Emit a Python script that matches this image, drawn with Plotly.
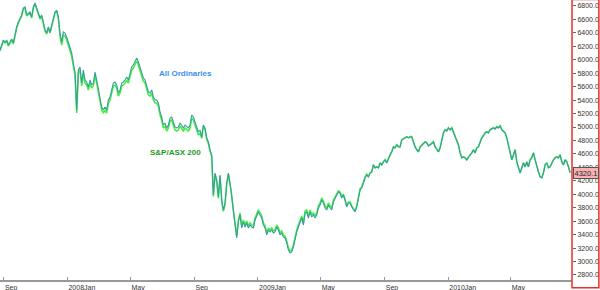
import pandas as pd
import plotly.graph_objects as go

# Sampling grid (about every 3.2 calendar days) starting late Aug 2007
start_date = "2007-08-25"
step = "4608min"

all_ords = [
    6145, 6220, 6294, 6264, 6294, 6220, 6264, 6309, 6250, 6398,
    6488, 6562, 6621, 6666, 6770, 6785, 6666, 6696, 6711, 6636,
    6785, 6844, 6770, 6666, 6621, 6666, 6547, 6443, 6398, 6488,
    6413, 6517, 6592, 6711, 6740, 6636, 6398, 6264, 6413, 6398,
    6339, 6250, 6190, 6101, 5952, 5818, 5253, 5848, 5893, 5655,
    5848, 5699, 5670, 5595, 5699, 5625, 5655, 5818, 5699, 5551,
    5447, 5298, 5253, 5298, 5253, 5402, 5447, 5551, 5655, 5670,
    5625, 5506, 5551, 5655, 5670, 5699, 5744, 5699, 5803, 5893,
    5922, 5967, 6027, 5967, 5893, 5818, 5729, 5699, 5595, 5521,
    5506, 5551, 5447, 5402, 5402, 5357, 5224, 5149, 5030, 5060,
    4986, 5030, 5134, 5149, 5075, 5001, 4986, 5001, 5060, 5030,
    4986, 5030, 5001, 4986, 5030, 5179, 5149, 5075, 5001, 4926,
    4956, 4852, 5030, 4986, 4837, 4777, 4659, 4584, 3989, 4316,
    4212, 3960, 4287, 3915, 3766, 3870, 4168, 4316, 4168, 3960,
    3722, 3513, 3350, 3588, 3692, 3499, 3588, 3513, 3573, 3499,
    3543, 3513, 3499, 3618, 3692, 3737, 3692, 3647, 3543, 3499,
    3395, 3469, 3439, 3469, 3424, 3439, 3513, 3469, 3395, 3424,
    3365, 3350, 3276, 3172, 3127, 3142, 3216, 3350, 3439, 3513,
    3588, 3647, 3543, 3722, 3737, 3647, 3737, 3662, 3692, 3647,
    3692, 3796, 3841, 3915, 3870, 3796, 3766, 3841, 3796, 3766,
    3885, 3945, 3989, 4034, 4019, 3945, 3989, 3915, 3811, 3870,
    3870, 3811, 3766, 3737, 3811, 3960, 4064, 4093, 4183, 4242,
    4287, 4257, 4316, 4331, 4435, 4391, 4406, 4391, 4465, 4435,
    4480, 4510, 4465, 4540, 4584, 4629, 4703, 4688, 4733, 4703,
    4703, 4807, 4822, 4837, 4852, 4837, 4852, 4852, 4763, 4703,
    4659, 4629, 4703, 4733, 4763, 4777, 4763, 4718, 4733, 4763,
    4777, 4703, 4659, 4629, 4688, 4807, 4911, 4956, 4941, 4986,
    4956, 4986, 4926, 4882, 4807, 4733, 4614, 4540, 4554, 4540,
    4510, 4554, 4584, 4614, 4659, 4614, 4688, 4703, 4763, 4837,
    4867, 4911, 4926, 4911, 4956, 4971, 4986, 4971, 5001, 4986,
    5015, 4956, 4926, 4911, 4837, 4733, 4659, 4510, 4584, 4659,
    4480, 4391, 4316, 4391, 4465, 4406, 4480, 4406, 4510, 4540,
    4614, 4510, 4406, 4331, 4257, 4242, 4316, 4435, 4465, 4391,
    4406, 4465, 4510, 4540, 4554, 4540, 4584, 4480, 4435, 4510,
    4480, 4406, 4320,
]

asx200 = [
    6130, 6205, 6279, 6249, 6279, 6205, 6249, 6294, 6235, 6383,
    6473, 6547, 6606, 6651, 6755, 6770, 6651, 6681, 6696, 6621,
    6770, 6829, 6755, 6651, 6606, 6651, 6532, 6428, 6383, 6473,
    6398, 6502, 6577, 6696, 6725, 6621, 6353, 6219, 6368, 6353,
    6294, 6205, 6145, 6056, 5907, 5773, 5208, 5803, 5848, 5610,
    5803, 5654, 5625, 5550, 5654, 5580, 5610, 5773, 5654, 5506,
    5402, 5253, 5208, 5253, 5208, 5357, 5402, 5506, 5610, 5625,
    5580, 5461, 5506, 5610, 5625, 5654, 5699, 5654, 5758, 5848,
    5877, 5922, 5982, 5922, 5848, 5773, 5684, 5654, 5550, 5476,
    5461, 5506, 5402, 5357, 5357, 5312, 5179, 5104, 4985, 5015,
    4941, 4985, 5089, 5104, 5030, 4956, 4941, 4956, 5015, 4985,
    4941, 4985, 4956, 4941, 4985, 5134, 5104, 5030, 4956, 4881,
    4911, 4832, 5010, 4966, 4817, 4757, 4639, 4564, 3969, 4296,
    4192, 3940, 4267, 3895, 3746, 3850, 4148, 4296, 4148, 3990,
    3752, 3543, 3380, 3618, 3722, 3529, 3618, 3543, 3603, 3529,
    3573, 3543, 3529, 3648, 3722, 3767, 3722, 3677, 3573, 3529,
    3425, 3499, 3469, 3499, 3454, 3469, 3543, 3499, 3425, 3454,
    3395, 3380, 3306, 3202, 3157, 3172, 3246, 3380, 3469, 3543,
    3618, 3677, 3573, 3752, 3767, 3677, 3767, 3692, 3722, 3677,
    3722, 3826, 3871, 3945, 3900, 3826, 3796, 3871, 3826, 3796,
    3915, 3960, 4004, 4049, 4034, 3960, 4004, 3930, 3826, 3885,
    3885, 3826, 3781, 3752, 3826, 3975, 4079, 4108, 4198, 4257,
    4302, 4262, 4321, 4336, 4440, 4396, 4411, 4396, 4470, 4440,
    4485, 4515, 4470, 4545, 4589, 4634, 4708, 4693, 4738, 4708,
    4708, 4812, 4827, 4842, 4857, 4842, 4857, 4857, 4768, 4708,
    4664, 4634, 4708, 4738, 4768, 4782, 4768, 4723, 4738, 4768,
    4782, 4708, 4664, 4634, 4693, 4812, 4916, 4961, 4946, 4991,
    4961, 4991, 4931, 4887, 4812, 4738, 4619, 4545, 4559, 4545,
    4515, 4559, 4589, 4619, 4664, 4619, 4693, 4708, 4768, 4842,
    4872, 4916, 4931, 4916, 4961, 4976, 4991, 4976, 5006, 4991,
    5020, 4961, 4931, 4916, 4842, 4738, 4664, 4515, 4589, 4664,
    4485, 4396, 4321, 4396, 4470, 4411, 4485, 4411, 4515, 4545,
    4619, 4515, 4411, 4336, 4262, 4247, 4321, 4440, 4470, 4396,
    4411, 4470, 4515, 4545, 4559, 4545, 4589, 4485, 4440, 4515,
    4485, 4411, 4325,
]

tick_dates = ["2007-09-01", "2008-01-01", "2008-05-01", "2008-09-01", "2009-01-01",
              "2009-05-01", "2009-09-01", "2010-01-01", "2010-05-01"]
tick_text = ["Sep", "2008Jan", "May", "Sep", "2009Jan", "May", "Sep", "2010Jan", "May"]

last_value = 4320.1
series_names = ["All Ordinaries", "S&P/ASX 200"]

dates = pd.date_range(start_date, periods=len(all_ords), freq=step)

fig = go.Figure()
fig.add_trace(go.Scatter(x=dates, y=asx200, mode="lines", name=series_names[1],
                         line=dict(color="#45ee45", width=1.6), hoverinfo="skip"))
fig.add_trace(go.Scatter(x=dates, y=all_ords, mode="lines", name=series_names[0],
                         line=dict(color="#3a9c9e", width=1.1), hoverinfo="skip"))

font_family = "Liberation Sans, Arial, sans-serif"

fig.update_layout(
    width=600, height=290,
    margin=dict(l=0, r=28, t=0, b=10, pad=0),
    paper_bgcolor="white", plot_bgcolor="white",
    showlegend=False,
    font=dict(family=font_family, size=7, color="#333333"),
    xaxis=dict(
        type="date",
        range=["2007-08-25", "2010-08-27"],
        tickvals=tick_dates, ticktext=tick_text,
        ticks="inside", ticklen=3, tickcolor="#999999", tickwidth=1,
        ticklabelposition="outside right",
        showline=True, linecolor="#999999", linewidth=1.5,
        showgrid=False, zeroline=False, automargin=False,
        tickfont=dict(size=7, color="#333333", family=font_family),
    ),
    yaxis=dict(
        side="right",
        range=[2725, 6889],
        tick0=2800, dtick=200, tickformat=".1f",
        ticks="outside", ticklen=3, tickcolor="#666666",
        showline=False, showgrid=False, zeroline=False, automargin=False,
        tickfont=dict(size=7, color="#333333", family=font_family),
    ),
)

# red frame around the price scale
fig.add_shape(type="rect", xref="paper", yref="paper",
              x0=1.0, x1=1.047, y0=-0.028, y1=1.002,
              line=dict(color="#e8302e", width=1.5), fillcolor="rgba(0,0,0,0)")

# last value marker
fig.add_annotation(xref="paper", yref="y", x=1.001, y=last_value,
                   xanchor="left", yanchor="middle",
                   text=f"{last_value:.1f}", showarrow=False, width=24, height=10,
                   font=dict(size=7.5, color="#222222", family=font_family),
                   bgcolor="#f6b3b3", bordercolor="#555555", borderwidth=1, borderpad=0)

# series labels
fig.add_annotation(x="2008-06-21", y=5789, text="<b>All Ordinaries</b>", showarrow=False,
                   xanchor="left", yanchor="middle",
                   font=dict(size=8, color="#3a8ff0", family=font_family))
fig.add_annotation(x="2008-06-04", y=4614, text="<b>S&amp;P/ASX 200</b>", showarrow=False,
                   xanchor="left", yanchor="middle",
                   font=dict(size=8, color="#1f9a1f", family=font_family))

fig.write_html("out.html")
